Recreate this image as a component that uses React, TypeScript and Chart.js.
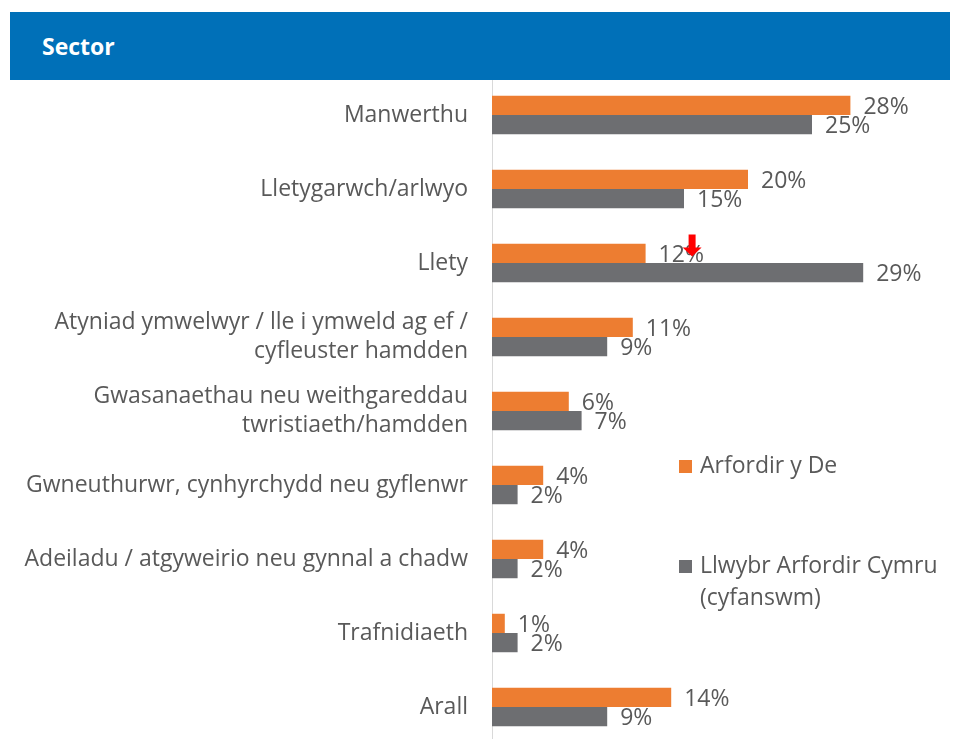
import React, { useEffect, useRef } from "react";
import { Chart, registerables } from "chart.js";

Chart.register(...registerables);

const categories: (string | string[])[] = [
  "Manwerthu",
  "Lletygarwch/arlwyo",
  "Llety",
  ["Atyniad ymwelwyr / lle i ymweld ag ef /", "cyfleuster hamdden"],
  ["Gwasanaethau neu weithgareddau", "twristiaeth/hamdden"],
  "Gwneuthurwr, cynhyrchydd neu gyflenwr",
  "Adeiladu / atgyweirio neu gynnal a chadw",
  "Trafnidiaeth",
  "Arall",
];
const arfordirYDe = [28, 20, 12, 11, 6, 4, 4, 1, 14];
const llwybrCymru = [25, 15, 29, 9, 7, 2, 2, 2, 9];
const seriesNames = ["Arfordir y De", "Llwybr Arfordir Cymru (cyfanswm)"];
const legendLines = [["Arfordir y De"], ["Llwybr Arfordir Cymru", "(cyfanswm)"]];
const downArrowIndex = 2; // Llety, Arfordir y De
const title = "Sector";

const ORANGE = "#ED7D31";
const GREY = "#6D6E71";
const TEXT = "#595959";
const FONT = "'Open Sans', 'Noto Sans', sans-serif";
const FS = 23;

const valueLabels = {
  id: "valueLabels",
  afterDatasetsDraw(chart: any) {
    const ctx = chart.ctx;
    ctx.save();
    ctx.font = `${FS}px ${FONT}`;
    ctx.fillStyle = TEXT;
    ctx.textAlign = "left";
    ctx.textBaseline = "middle";
    chart.data.datasets.forEach((ds: any, di: number) => {
      const meta = chart.getDatasetMeta(di);
      meta.data.forEach((el: any, i: number) => {
        ctx.fillText(`${ds.data[i]}%`, el.x + 13, el.y + 2);
      });
    });
    // red down arrow annotation
    const el = chart.getDatasetMeta(0).data[downArrowIndex];
    if (el) {
      const cx = el.x + 46.5;
      const top = el.y - 19;
      ctx.fillStyle = "#FF0000";
      ctx.beginPath();
      ctx.moveTo(cx - 3.5, top);
      ctx.lineTo(cx + 3.5, top);
      ctx.lineTo(cx + 3.5, top + 13);
      ctx.lineTo(cx + 9.5, top + 13);
      ctx.lineTo(cx, top + 22);
      ctx.lineTo(cx - 9.5, top + 13);
      ctx.lineTo(cx - 3.5, top + 13);
      ctx.closePath();
      ctx.fill();
    }
    ctx.restore();
  },
};

const customLegend = {
  id: "customLegend",
  afterDraw(chart: any) {
    const ctx = chart.ctx;
    ctx.save();
    ctx.font = `${FS}px ${FONT}`;
    ctx.textAlign = "left";
    ctx.textBaseline = "middle";
    const x = 679;
    const ys = [466, 566];
    chart.data.datasets.forEach((ds: any, di: number) => {
      const y = ys[di];
      ctx.fillStyle = ds.backgroundColor;
      ctx.fillRect(x, y - 6, 13, 13);
      ctx.fillStyle = TEXT;
      legendLines[di].forEach((line, li) => {
        ctx.fillText(line, x + 21, y + li * 32);
      });
    });
    ctx.restore();
  },
};

export default function App() {
  const ref = useRef<HTMLCanvasElement>(null);
  useEffect(() => {
    if (!ref.current) return;
    const chart = new Chart(ref.current, {
      type: "bar",
      data: {
        labels: categories as any,
        datasets: [
          {
            label: seriesNames[0],
            data: arfordirYDe,
            backgroundColor: ORANGE,
            barPercentage: 1,
            categoryPercentage: 0.52,
          },
          {
            label: seriesNames[1],
            data: llwybrCymru,
            backgroundColor: GREY,
            barPercentage: 1,
            categoryPercentage: 0.52,
          },
        ],
      },
      options: {
        indexAxis: "y",
        responsive: false,
        animation: false,
        maintainAspectRatio: false,
        layout: { padding: { top: 78, bottom: 2, left: 0, right: 16 } },
        plugins: {
          legend: { display: false },
          tooltip: { enabled: false },
        },
        scales: {
          x: { display: false, min: 0, max: 35 },
          y: {
            afterFit(scale: any) {
              scale.width = 492;
              scale.paddingTop = 0;
              scale.paddingBottom = 0;
            },
            grid: { display: false, drawTicks: false },
            border: { display: true, color: "#D9D9D9", width: 1 },
            ticks: {
              color: TEXT,
              padding: 24,
              font: { family: FONT, size: FS, lineHeight: 1.3 },
            },
          },
        },
      },
      plugins: [valueLabels, customLegend],
    });
    return () => chart.destroy();
  }, []);

  return (
    <div
      style={{
        position: "fixed",
        left: 0,
        top: 0,
        width: 956,
        height: 739,
        overflow: "hidden",
        background: "#fff",
      }}
    >
      <canvas
        ref={ref}
        width={956}
        height={746}
        style={{ position: "absolute", left: 0, top: 0, width: 956, height: 746 }}
      />
      <div
        style={{
          position: "absolute",
          left: 10,
          top: 12,
          width: 940,
          height: 68,
          background: "#0070B8",
          color: "#fff",
          fontFamily: FONT,
          fontWeight: 700,
          fontSize: FS,
          lineHeight: "68px",
          paddingLeft: 32,
          boxSizing: "border-box",
        }}
      >
        {title}
      </div>
    </div>
  );
}
